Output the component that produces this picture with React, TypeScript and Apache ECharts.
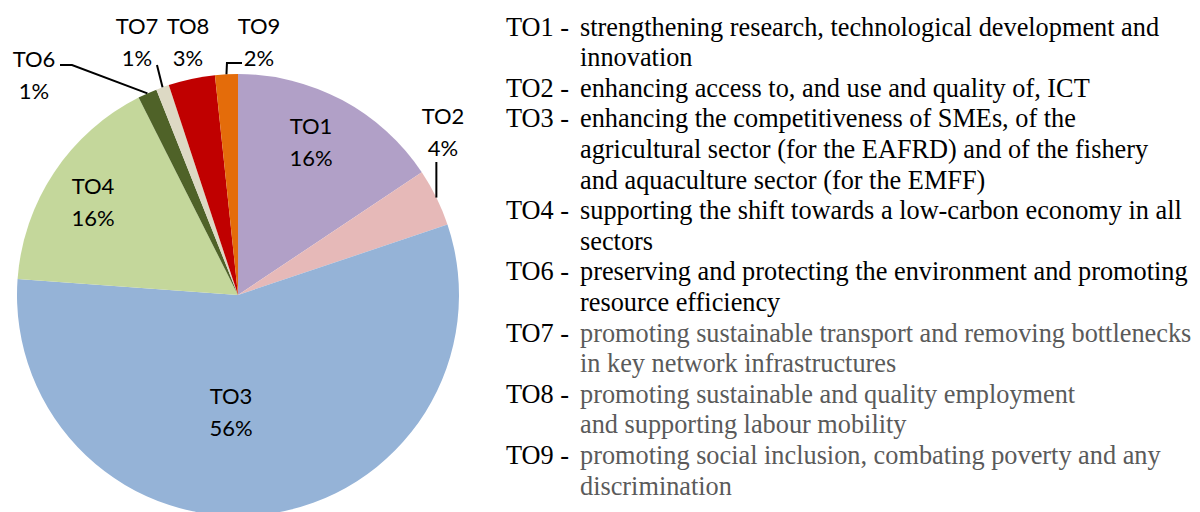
import React, { useEffect, useRef } from 'react';
import * as echarts from 'echarts';

const categories = ['TO1', 'TO2', 'TO3', 'TO4', 'TO6', 'TO7', 'TO8', 'TO9'];
const shares = [15.6, 4.2, 56.2, 16.4, 1.4, 0.95, 3.4, 1.66];
const sliceColors = ['#B1A0C7', '#E6B9B8', '#95B3D7', '#C4D79B', '#4F6228', '#DDD9C4', '#C00000', '#E46C0A'];
const descriptions = [
  ['strengthening research, technological development and', 'innovation'],
  ['enhancing access to, and use and quality of, ICT'],
  ['enhancing the competitiveness of SMEs, of the', 'agricultural sector (for the EAFRD) and of the fishery', 'and aquaculture sector (for the EMFF)'],
  ['supporting the shift towards a low-carbon economy in all', 'sectors'],
  ['preserving and protecting the environment and promoting', 'resource efficiency'],
  ['promoting sustainable transport and removing bottlenecks', 'in key network infrastructures'],
  ['promoting sustainable and quality employment', 'and supporting labour mobility'],
  ['promoting social inclusion, combating poverty and any', 'discrimination'],
];
const mutedDescriptions = [false, false, false, false, false, true, true, true];

// layout (not data): label centres and leader-line bends, in px
const labelCenters = [[311, 141.5], [443, 131], [231, 411], [93, 201.5], [34, 74], [137, 41], [188, 41], [259, 41]];
// each bend: [x, y, relativeToAnchorX]
const leaderBends: (number[][] | null)[] = [
  null,
  [[0, 162, 1]],
  null,
  null,
  [[72, 65, 0], [60, 65, 0]],
  [[157, 65, 0]],
  null,
  [[0.5, 63, 1], [242, 63, 0]],
];

const CENTER = [238, 295];
const RADIUS = 221;

export default function App() {
  const ref = useRef<HTMLDivElement>(null);
  useEffect(() => {
    if (!ref.current) return;
    const chart = echarts.init(ref.current, null, { renderer: 'svg' });

    const legendX = 506;
    const descX = 580;
    const firstRowY = 27;
    const rowH = 30.6;
    const serif = { fontFamily: '"Liberation Serif", "Times New Roman", serif', fontSize: 26.3 };
    const graphics: any[] = [];
    let row = 0;
    categories.forEach((c, i) => {
      graphics.push({
        type: 'text', x: legendX, y: firstRowY + row * rowH, silent: true,
        style: { text: c + ' -', ...serif, fill: '#000', verticalAlign: 'middle', align: 'left' },
      });
      descriptions[i].forEach((line) => {
        graphics.push({
          type: 'text', x: descX, y: firstRowY + row * rowH, silent: true,
          style: {
            text: line, ...serif,
            fill: mutedDescriptions[i] ? '#5a5a5a' : '#000',
            verticalAlign: 'middle', align: 'left',
          },
        });
        row++;
      });
    });

    // leader lines: anchored at each slice's mid-angle on the rim (computed from the data)
    const total = shares.reduce((a, b) => a + b, 0);
    let cum = 0;
    shares.forEach((v, i) => {
      const mid = ((cum + v / 2) / total) * Math.PI * 2;
      cum += v;
      const bends = leaderBends[i];
      if (!bends) return;
      const ax = CENTER[0] + RADIUS * Math.sin(mid);
      const ay = CENTER[1] - RADIUS * Math.cos(mid);
      const pts: number[][] = [[ax, ay]];
      bends.forEach((b) => pts.push([b[2] ? ax + b[0] : b[0], b[1]]));
      graphics.push({
        type: 'polyline', silent: true, z: 100,
        shape: { points: pts },
        style: { stroke: '#000', lineWidth: 2, fill: null, lineJoin: 'miter' },
      });
    });

    chart.setOption({
      animation: false,
      backgroundColor: '#fff',
      graphic: graphics,
      series: [
        {
          type: 'pie',
          center: CENTER,
          radius: RADIUS,
          startAngle: 90,
          clockwise: true,
          silent: true,
          avoidLabelOverlap: false,
          itemStyle: { borderWidth: 0 },
          label: {
            show: true,
            position: 'inside',
            formatter: (p: any) => `${p.name}\n${Math.round(p.value)}%`,
            fontFamily: 'Lato, "Noto Sans", sans-serif',
            fontSize: 22,
            lineHeight: 32,
            color: '#000',
          },
          labelLine: { show: false },
          labelLayout: (params: any) => {
            const pos = labelCenters[params.dataIndex];
            return { x: pos[0], y: pos[1], align: 'center', verticalAlign: 'middle' };
          },
          data: categories.map((c, i) => ({
            name: c,
            value: shares[i],
            itemStyle: { color: sliceColors[i] },
          })),
        },
      ],
    });
    return () => chart.dispose();
  }, []);
  return <div ref={ref} style={{ position: 'absolute', left: 0, top: 0, width: 1200, height: 512 }} />;
}
